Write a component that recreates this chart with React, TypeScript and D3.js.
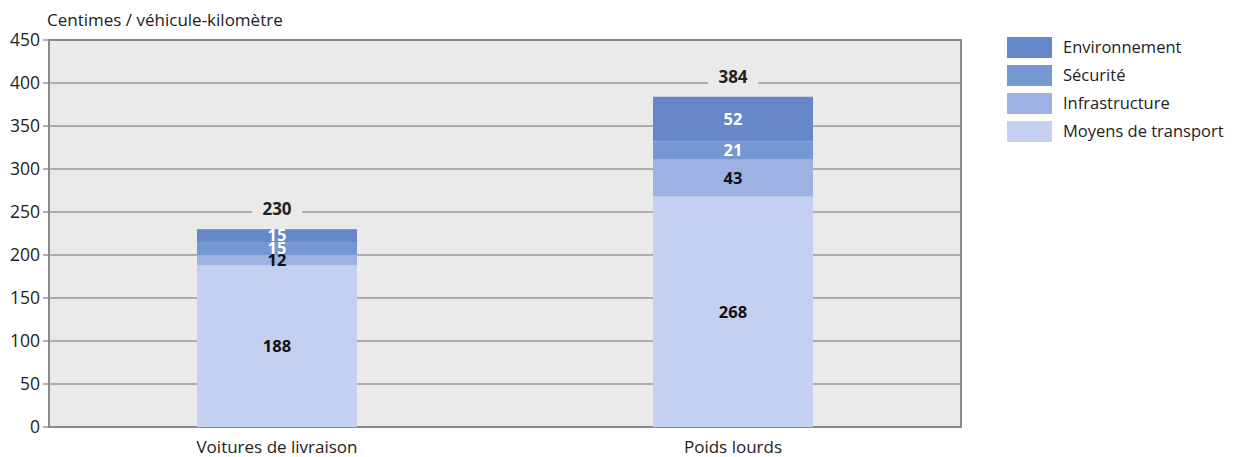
import React from "react";
import * as d3 from "d3";

const categories = ["Voitures de livraison", "Poids lourds"];
const seriesNames = ["Moyens de transport", "Infrastructure", "Sécurité", "Environnement"];
const moyens = [188, 268];
const infrastructure = [12, 43];
const securite = [15, 21];
const environnement = [15, 52];
const totals = [230, 384];
const yTicks = [0, 50, 100, 150, 200, 250, 300, 350, 400, 450];

const colors = ["#c3d0f0", "#9eb1e3", "#7597d2", "#6687c9"];
const labelColors = ["#111", "#111", "#fff", "#fff"];
const FONT = "'Open Sans', sans-serif";

export default function App() {
  const W = 1233, H = 457;
  const left = 49, right = 961, top = 40, bottom = 427;
  const x = d3.scaleBand<string>().domain(categories).range([left, right]).paddingInner(0).paddingOuter(0);
  const y = d3.scaleLinear().domain([0, 450]).range([bottom, top]);
  const barW = 160;
  const table = categories.map((c, i) => ({
    cat: c,
    v0: moyens[i], v1: infrastructure[i], v2: securite[i], v3: environnement[i],
  }));
  const stack = d3.stack<any>().keys(["v0", "v1", "v2", "v3"])(table);

  return (
    <svg width={W} height={H} style={{ position: "absolute", left: 0, top: 0, fontFamily: FONT }}>
      <rect x={0} y={0} width={W} height={H} fill="#fff" />
      <rect x={left} y={top} width={right - left} height={bottom - top} fill="#eaeaea" />
      {yTicks.map((t) => (
        <g key={t}>
          <line x1={left - 6} x2={right} y1={y(t)} y2={y(t)} stroke="#999" strokeWidth={1.5} />
          <text x={40} y={y(t)} dy="0.35em" textAnchor="end" fontSize={17.5} fill="#222">{t}</text>
        </g>
      ))}
      <rect x={left} y={top} width={right - left} height={bottom - top} fill="none" stroke="#8a8a8a" strokeWidth={2} />
      {stack.map((s, si) =>
        s.map((d, i) => {
          const cx = x(categories[i])! + x.bandwidth() / 2;
          return (
            <rect key={`${si}-${i}`} x={cx - barW / 2} y={y(d[1])} width={barW} height={y(d[0]) - y(d[1])} fill={colors[si]} />
          );
        })
      )}
      {stack.map((s, si) =>
        s.map((d, i) => {
          const cx = x(categories[i])! + x.bandwidth() / 2;
          const v = d[1] - d[0];
          return (
            <text key={`l${si}-${i}`} x={cx} y={(y(d[0]) + y(d[1])) / 2} dy="0.35em" textAnchor="middle" fontSize={16.5} fontWeight="bold" fill={labelColors[si]}>{v}</text>
          );
        })
      )}
      {totals.map((t, i) => {
        const cx = x(categories[i])! + x.bandwidth() / 2;
        const ty = y(t) - 20;
        return (
          <g key={`t${i}`}>
            <rect x={cx - 25} y={ty - 10} width={50} height={20} fill="#eaeaea" />
            <text x={cx} y={ty} dy="0.35em" textAnchor="middle" fontSize={17} fontWeight="bold" fill="#222">{t}</text>
          </g>
        );
      })}
      {categories.map((c) => (
        <text key={c} x={x(c)! + x.bandwidth() / 2} y={447} dy="0.35em" textAnchor="middle" fontSize={17} fill="#222">{c}</text>
      ))}
      <text x={47} y={20} dy="0.35em" fontSize={17} fill="#222">Centimes / véhicule-kilomètre</text>
      {[3, 2, 1, 0].map((si, k) => (
        <g key={`lg${si}`}>
          <rect x={1007} y={37 + k * 28} width={45} height={21} fill={colors[si]} />
          <text x={1063} y={37 + k * 28 + 10.5} dy="0.35em" fontSize={16.5} fill="#222">{seriesNames[si]}</text>
        </g>
      ))}
    </svg>
  );
}
